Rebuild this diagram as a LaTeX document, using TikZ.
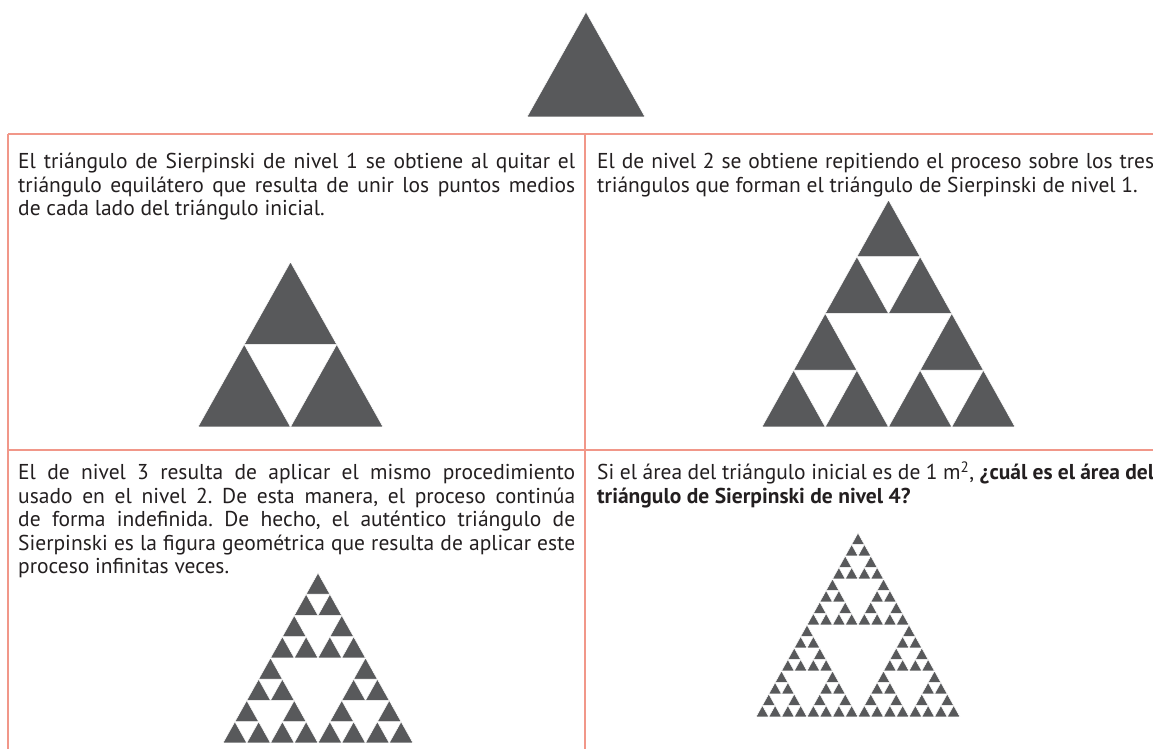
\documentclass[tikz,border=0pt]{standalone}
\usepackage{fontspec}
\setmainfont{PT Sans}
\definecolor{trigray}{RGB}{88,89,91}
\definecolor{salmon}{RGB}{241,151,137}
\definecolor{ink}{RGB}{35,31,32}
\newcommand\sierpt[5]{%
 \ifnum#1=0\relax
   \fill[tri] (#2,#3) -- ++(#4,0) -- ++(-0.5*#4,#5) -- cycle;%
 \else
   \begingroup
   \pgfmathtruncatemacro\lv{#1-1}%
   \pgfmathsetmacro\hw{#4/2}%
   \pgfmathsetmacro\hh{#5/2}%
   \pgfmathsetmacro\xa{#2+\hw}%
   \pgfmathsetmacro\xb{#2+\hw/2}%
   \pgfmathsetmacro\yb{#3+\hh}%
   \edef\next{%
     \noexpand\sierpt{\lv}{#2}{#3}{\hw}{\hh}%
     \noexpand\sierpt{\lv}{\xa}{#3}{\hw}{\hh}%
     \noexpand\sierpt{\lv}{\xb}{\yb}{\hw}{\hh}}%
   \next
   \endgroup
 \fi}
\begin{document}
\frenchspacing
\begin{tikzpicture}[x=1pt,y=1pt,
  tri/.style={fill=trigray,draw=white,line width=0.5pt},
  rule/.style={draw=salmon,line width=2pt},
  cell/.style={anchor=base west,inner sep=0pt,text=ink,font=\fontsize{21.5}{23.5}\selectfont}]
\useasboundingbox (0,0) rectangle (1153,749);
\clip (0,0) rectangle (1153,749);
\fill[white] (0,0) rectangle (1153,749);
% table rules
\coordinate (tl) at (8,615);
\coordinate (tr) at (1160,615);
\coordinate (ml) at (8,299);
\coordinate (mr) at (1160,299);
\coordinate (bl) at (8,-5);
\coordinate (tm) at (585,615);
\coordinate (bm) at (585,-5);
\draw[rule] (tl) -- (tr);
\draw[rule] (ml) -- (mr);
\draw[rule] (tl) -- (bl);
\draw[rule] (tm) -- (bm);
% triangles
\sierpt{0}{527}{632}{118}{105}
\sierpt{1}{198}{322}{185}{165}
\sierpt{2}{762}{322}{253}{227}
\sierpt{3}{223}{6}{190}{170}
\sierpt{4}{756}{32}{204}{184}
% texts
\node[cell] (c1) at (18,580) {\parbox[t]{557pt}{El triángulo de Sierpinski de nivel 1 se obtiene al quitar el\linebreak triángulo equilátero que resulta de unir los puntos medios\linebreak de cada lado del triángulo inicial.}};
\node[cell] (c2) at (597,580) {\parbox[t]{557pt}{El de nivel 2 se obtiene repitiendo el proceso sobre los tres\linebreak triángulos que forman el triángulo de Sierpinski de nivel 1.}};
\node[cell] (c3) at (18,269) {\parbox[t]{557pt}{El de nivel 3 resulta de aplicar el mismo procedimiento\linebreak usado en el nivel 2. De esta manera, el proceso continúa\linebreak de forma indefinida. De hecho, el auténtico triángulo de\linebreak Sierpinski es la figura geométrica que resulta de aplicar este\linebreak proceso infinitas veces.}};
\node[cell] (c4) at (597,269) {\parbox[t]{557pt}{Si el área del triángulo inicial es de 1 m\textsuperscript{2}, \textbf{¿cuál es el área del}\linebreak \textbf{triángulo de Sierpinski de nivel 4?}}};
\end{tikzpicture}
\end{document}
